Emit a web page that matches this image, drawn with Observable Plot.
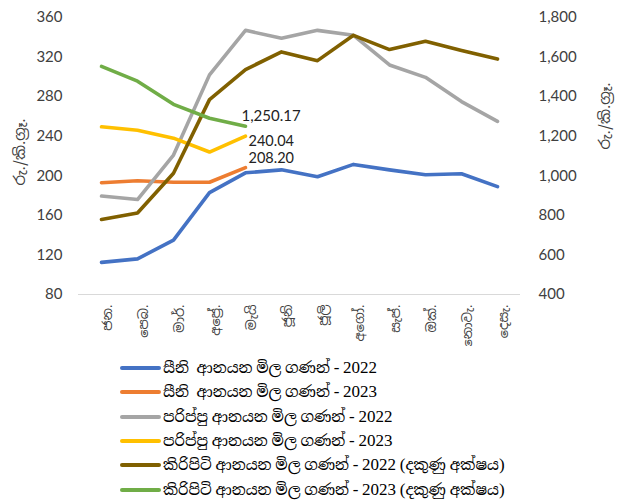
<!DOCTYPE html>
<html>
<head>
<meta charset="utf-8">
<script src="https://cdn.jsdelivr.net/npm/d3@7"></script>
<script src="https://cdn.jsdelivr.net/npm/@observablehq/plot@0.6"></script>
<style>
  body { margin: 0; background: #fff; width: 620px; height: 502px; overflow: hidden; }
  #chart svg { display: block; }
  .legend { margin-left: 120px; margin-top: 10px; font-family: "Liberation Serif", "Noto Serif Sinhala", "Noto Sans Sinhala", serif; font-size: 15px; color: #000; }
  .legend .row { display: flex; align-items: center; height: 24.3px; }
  .legend .sw { width: 41px; height: 4px; border-radius: 2px; margin-right: 2px; }
  .legend .num { font-size: 17px; }
</style>
</head>
<body>
<div id="chart"></div>
<div class="legend" id="legend"></div>
<script>
const months = ["ජන.", "පෙබ.", "මාර්.", "අප්‍රේ.", "මැයි", "ජූනි", "ජූලි", "අගෝ.", "සැප්.", "ඔක්.", "නොවැ.", "දෙසැ."];

const sugar2022 = [112.5, 116, 135, 183, 203, 206, 199, 211.5, 206, 201, 202, 189];
const sugar2023 = [193, 195, 193.5, 193.5, 208.20];
const dhal2022 = [179.5, 176, 221, 302, 347, 339, 347, 342, 312, 299.5, 275, 255];
const dhal2023 = [249.5, 246, 238, 224, 240.04];
const milk2022 = [779, 812, 1013, 1385, 1537, 1626, 1582, 1710, 1638, 1680, 1633, 1590];
const milk2023 = [1553, 1478, 1361, 1291, 1250.17];

const seriesNames = [
  "සීනි  ආනයන මිල ගණන් - 2022",
  "සීනි  ආනයන මිල ගණන් - 2023",
  "පරිප්පු ආනයන මිල ගණන් - 2022",
  "පරිප්පු ආනයන මිල ගණන් - 2023",
  "කිරිපිටි ආනයන මිල ගණන් - 2022 (දකුණු අක්ෂය)",
  "කිරිපිටි ආනයන මිල ගණන් - 2023 (දකුණු අක්ෂය)"
];
const seriesColors = ["#4472C4", "#ED7D31", "#A5A5A5", "#FFC000", "#806000", "#70AD47"];
const seriesValues = [sugar2022, sugar2023, dhal2022, dhal2023, milk2022, milk2023];
const rightAxisSeries = [false, false, false, false, true, true];

const leftTicks = [80, 120, 160, 200, 240, 280, 320, 360];
const rightTicks = [400, 600, 800, 1000, 1200, 1400, 1600, 1800];
const axisTitle = "රු./කි.ග්‍රෑ.";

// right axis (400..1800) mapped onto left axis (80..360)
const toLeft = v => 80 + (v - 400) * (280 / 1400);
const fromLeft = t => 400 + (t - 80) * (1400 / 280);

const rows = [];
seriesValues.forEach((vals, s) => {
  vals.forEach((v, i) => rows.push({series: s, month: months[i], value: v, y: rightAxisSeries[s] ? toLeft(v) : v}));
});

function lastPoint(s, fmt) {
  const vals = seriesValues[s];
  const v = vals[vals.length - 1];
  return [{month: months[vals.length - 1], y: rightAxisSeries[s] ? toLeft(v) : v, text: d3.format(fmt)(v)}];
}

const font = "Lato, 'Open Sans', sans-serif";
const sinhala = "'Noto Sans Sinhala', 'Noto Serif Sinhala', 'Iskoola Pota', sans-serif";

const plot = Plot.plot({
  width: 620,
  height: 346,
  marginTop: 17,
  marginBottom: 52,
  marginLeft: 78,
  marginRight: 100,
  style: {fontFamily: font, fontSize: "15px", color: "#404040", background: "#fff"},
  x: {type: "point", domain: months, padding: 0.5},
  y: {domain: [80, 360]},
  marks: [
    Plot.ruleY([80], {stroke: "#d9d9d9", strokeWidth: 1.2}),
    Plot.axisY(leftTicks, {anchor: "left", tickSize: 0, tickPadding: 16, label: null, fontSize: 15, fill: "#404040"}),
    Plot.axisY(rightTicks.map(toLeft), {anchor: "right", tickSize: 0, tickPadding: 18, label: null, tickFormat: t => d3.format(",")(fromLeft(t)), fontSize: 15, fill: "#404040", textAnchor: "start"}),
    Plot.axisX(months, {anchor: "bottom", tickSize: 0, tickPadding: 10, tickRotate: -90, label: null, fontSize: 13, fill: "#404040", fontFamily: sinhala, dx: 6}),
    Plot.text([axisTitle], {frameAnchor: "left", dx: -58, dy: -4, rotate: -90, textAnchor: "middle", fontSize: 15, fill: "#404040", fontFamily: sinhala}),
    Plot.text([axisTitle], {frameAnchor: "right", dx: 85, dy: -40, rotate: -90, textAnchor: "middle", fontSize: 15, fill: "#404040", fontFamily: sinhala}),
    Plot.line(rows, {x: "month", y: "y", z: "series", stroke: d => seriesColors[d.series], strokeWidth: 3.6, strokeLinejoin: "round", strokeLinecap: "round"}),
    Plot.text(lastPoint(5, ",.2f"), {x: "month", y: "y", text: "text", dx: -4, dy: -10, textAnchor: "start", fontSize: 15, fill: "#222"}),
    Plot.text(lastPoint(3, ".2f"), {x: "month", y: "y", text: "text", dx: 3, dy: 5, textAnchor: "start", fontSize: 14.5, fill: "#222"}),
    Plot.text(lastPoint(1, ".2f"), {x: "month", y: "y", text: "text", dx: 3, dy: -9, textAnchor: "start", fontSize: 14.5, fill: "#222"})
  ]
});
document.getElementById("chart").appendChild(plot);

const legend = document.getElementById("legend");
seriesNames.forEach((name, s) => {
  const row = document.createElement("div");
  row.className = "row";
  const sw = document.createElement("div");
  sw.className = "sw";
  sw.style.background = seriesColors[s];
  const t = document.createElement("span");
  t.style.whiteSpace = "pre";
  // digits and brackets in a larger serif size, as in the reference
  name.split(/([0-9()\-]+)/).forEach(part => {
    if (!part) return;
    const p = document.createElement("span");
    p.textContent = part;
    if (/[0-9()\-]/.test(part)) p.className = "num";
    t.appendChild(p);
  });
  row.appendChild(sw);
  row.appendChild(t);
  legend.appendChild(row);
});
</script>
</body>
</html>
